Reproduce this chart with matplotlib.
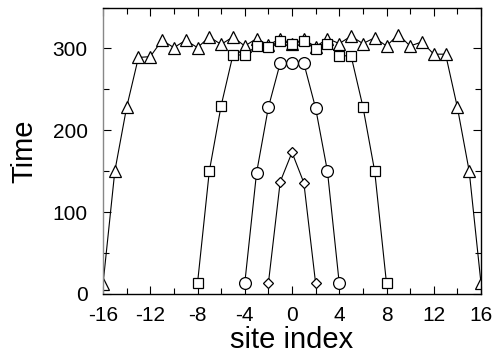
import matplotlib
matplotlib.use("Agg")
import matplotlib.pyplot as plt
from matplotlib.ticker import MultipleLocator

plt.rcParams['font.family'] = ['Liberation Sans', 'DejaVu Sans']

sites_tri = list(range(-16, 17))
time_tri = [12, 150, 228, 289, 290, 310, 301, 310, 301, 314, 305, 314, 303, 312, 304, 312,
            306, 311, 302, 312, 306, 315, 306, 313, 303, 317, 303, 308, 293, 293, 228, 150, 13]

sites_sq = list(range(-8, 9))
time_sq = [13, 150, 230, 292, 292, 303, 302, 309, 306, 309, 299, 306, 291, 291, 229, 150, 13]

sites_circ = list(range(-4, 5))
time_circ = [13, 148, 228, 282, 282, 282, 227, 150, 13]

sites_dia = list(range(-2, 3))
time_dia = [13, 137, 173, 136, 13]

xticks = [-16, -12, -8, -4, 0, 4, 8, 12, 16]
yticks = [0, 100, 200, 300]

fig = plt.figure(figsize=(4.94, 3.58), dpi=100)
ax = fig.add_axes([0.2085, 0.1788, 0.7652, 0.8002])

style = dict(color='black', lw=0.8, mfc='white', mec='black', mew=0.9)
ax.plot(sites_tri, time_tri, marker='^', ms=9, **style)
ax.plot(sites_sq, time_sq, marker='s', ms=6.5, **style)
ax.plot(sites_circ, time_circ, marker='o', ms=8.5, **style)
ax.plot(sites_dia, time_dia, marker='D', ms=5, **style)

ax.set_xlim(-16, 16)
ax.set_ylim(0, 350)
ax.set_xticks(xticks)
ax.set_xticklabels([str(v) for v in xticks])
ax.set_yticks(yticks)
ax.xaxis.set_minor_locator(MultipleLocator(2))
ax.yaxis.set_minor_locator(MultipleLocator(50))
ax.tick_params(which='both', direction='in', top=True, right=True, labelsize=15, width=0.8)
ax.tick_params(which='major', length=6)
ax.tick_params(which='minor', length=4)
ax.tick_params(axis='x', pad=9)
ax.tick_params(axis='y', pad=11)
ax.spines['left'].set_color('#888888')
for s in ax.spines.values():
    s.set_linewidth(1.0)

ax.set_xlabel('site index', fontsize=21, labelpad=0.5)
ax.set_ylabel('Time', fontsize=21, labelpad=10)

fig.savefig('out.png', dpi=100)
